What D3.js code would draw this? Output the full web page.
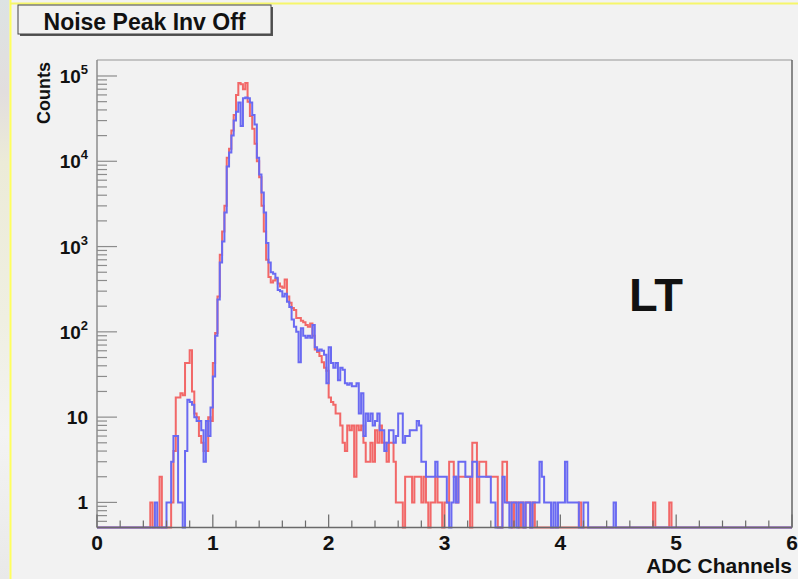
<!DOCTYPE html>
<html>
<head>
<meta charset="utf-8">
<script src="https://cdn.jsdelivr.net/npm/d3@7"></script>
<style>
  html, body { margin: 0; padding: 0; background: #f2f2f2; }
  svg { display: block; }
  text { font-family: "Liberation Sans", Arial, Helvetica, sans-serif; font-weight: bold; fill: #111; }
</style>
</head>
<body>
<svg id="chart" width="798" height="579"></svg>
<script>
// Histogram binning: fixed-width bins over the ADC range
const xRange = [0, 6];
const binWidth = 0.02;
const firstBinLow = 0.40;   // low edge of the first stored bin

// Counts per bin, starting at firstBinLow (red = first run, blue = second run)
const redCounts = [
  0,0,0,1,0,0,0,2,0,0,
  0,0,1,4,17,17,19,18,43,43,
  61,20,11,10,6,5,4,4,10,9,
  43,97,260,800,1500,3000,11000,14000,23000,35000,
  60000,83000,80000,70000,83000,50000,34000,24000,16000,10000,
  6500,3000,1500,700,440,380,400,420,370,340,
  330,410,260,220,190,180,145,145,135,130,
  120,115,125,90,62,58,52,44,38,35,
  17,15,14,11,11,8,5,4,8,7,
  8,2,8,7,8,5,3,3,5,3,
  7,5,8,5,5,3,5,5,3,1,
  1,1,0,2,2,2,1,2,2,2,
  1,2,1,0,1,1,2,1,1,0,
  1,1,3,3,2,1,2,2,2,2,
  2,0,5,5,1,3,3,3,2,2,
  2,2,2,0,0,3,3,1,1,0,
  1,1,0,1,0,1,1,0,1,0,
  0,0,0,0,0,0,0,0,0,0,
  0,0,0,0,0,0,0,0,1,0,
  0,0,0,0,0,0,0,0,0,0,
  0,0,0,0,0,0,0,0,0,0,
  0,0,0,0,0,0,0,0,0,0,
  1,0,0,0,0,0,0,1,0
];

const blueCounts = [
  0,0,0,0,0,1,0,0,0,0,
  1,1,3,6,6,1,1,0,4,16,
  15,14,10,9,9,7,3,9,6,13,
  30,90,240,650,1150,2500,8700,12700,20000,30000,
  38000,49000,26000,55000,56000,55000,49000,35000,27000,11000,
  7000,4300,2500,1100,650,500,480,430,310,300,
  260,280,225,195,140,115,100,44,110,90,
  85,90,85,120,66,60,62,60,54,25,
  66,43,38,43,27,38,36,25,24,25,
  23,23,25,11,19,6,11,9,11,8,
  9,11,7,7,4,5,7,7,5,6,
  11,11,5,6,6,7,7,7,9,8,
  3,3,2,2,2,2,3,2,2,2,
  2,1,0,1,2,1,3,3,3,2,
  2,2,3,3,2,2,2,2,2,2,
  1,1,0,0,0,2,1,1,0,1,
  1,0,1,1,0,1,1,0,1,1,
  1,3,2,1,1,1,0,1,0,1,
  1,1,3,1,1,1,1,1,0,0,
  1,1,0,0,0,0,0,0,0,0,
  0,0,0,1,0,0,0,0,0,0,
  0,0,0,0,0,0,0,0,0,0,
  0,0,0,0,0,0,0,0,0
];

// Axis labels
const xTickValues = [0, 1, 2, 3, 4, 5, 6];
const xTickLabels = ["0", "1", "2", "3", "4", "5", "6"];
const yTickValues = [1, 10, 100, 1000, 10000, 100000];
const yTickBase = ["1", "10", "10", "10", "10", "10"];
const yTickExp = ["", "", "2", "3", "4", "5"];

const title = "Noise Peak Inv Off";
const xTitle = "ADC Channels";
const yTitle = "Counts";
const tag = "LT";

const seriesColors = { red: "#f26868", blue: "#6a6af2" };

// ---- layout ----
const W = 798, H = 579;
const frame = { left: 97, right: 792, top: 60, bottom: 527.5 };

const svg = d3.select("#chart");

// page background and the strip along the left edge
const defs = svg.append("defs");
const grad = defs.append("linearGradient").attr("id", "edgeStrip")
  .attr("x1", 0).attr("y1", 0).attr("x2", 0).attr("y2", 1);
[["0%", "#dde3e3"], ["16%", "#e2dede"], ["28%", "#ecebd8"], ["55%", "#efefe2"], ["75%", "#f3f3f3"], ["100%", "#e9e9e9"]]
  .forEach(([o, c]) => grad.append("stop").attr("offset", o).attr("stop-color", c));

svg.append("rect").attr("width", W).attr("height", H).attr("fill", "#f2f2f2");
svg.append("rect").attr("x", 0).attr("y", 0).attr("width", 9.5).attr("height", H).attr("fill", "url(#edgeStrip)");
svg.append("line").attr("x1", 10.5).attr("x2", 10.5).attr("y1", 0).attr("y2", H)
  .attr("stroke", "#ffff5e").attr("stroke-width", 2);
svg.append("line").attr("x1", 10).attr("x2", W).attr("y1", 3.5).attr("y2", 3.5)
  .attr("stroke", "#f6f66a").attr("stroke-width", 2);

// scales
const x = d3.scaleLinear().domain(xRange).range([frame.left, frame.right]);
const y = d3.scaleLog().domain([0.508, 1.54e5]).range([frame.bottom, frame.top]);

// frame borders
svg.append("line").attr("x1", frame.left).attr("x2", frame.right).attr("y1", frame.top).attr("y2", frame.top)
  .attr("stroke", "#b4b4b4").attr("stroke-width", 1.5);
svg.append("line").attr("x1", frame.right).attr("x2", frame.right).attr("y1", frame.top).attr("y2", frame.bottom)
  .attr("stroke", "#666").attr("stroke-width", 1.5);

// step outline for a histogram; empty bins sit on the bottom of the log frame
const nBins = Math.round((xRange[1] - xRange[0]) / binWidth);
const offset = Math.round((firstBinLow - xRange[0]) / binWidth);
function histPoints(counts) {
  const pts = [];
  for (let i = 0; i < nBins; i++) {
    const k = i - offset;
    const c = (k >= 0 && k < counts.length) ? counts[k] : 0;
    const lo = xRange[0] + i * binWidth, hi = lo + binWidth;
    const yy = c > 0 ? y(c) : frame.bottom;
    pts.push([x(lo), yy], [x(hi), yy]);
  }
  return pts;
}
const line = d3.line();

const hist = svg.append("g");
hist.append("path").attr("d", line(histPoints(redCounts)))
  .attr("fill", "none").attr("stroke", seriesColors.red).attr("stroke-width", 2)
  .attr("stroke-linejoin", "miter");
hist.append("path").attr("d", line(histPoints(blueCounts)))
  .attr("fill", "none").attr("stroke", seriesColors.blue).attr("stroke-width", 2)
  .attr("stroke-linejoin", "miter");

// y axis (log): line, ticks pointing into the frame, labels with exponents
const yAxis = svg.append("g");
yAxis.append("line").attr("x1", frame.left).attr("x2", frame.left).attr("y1", frame.top).attr("y2", frame.bottom)
  .attr("stroke", "#8c8c8c").attr("stroke-width", 1.5);
const yMinor = [];
for (let d = -1; d <= 5; d++) for (let m = 1; m <= 9; m++) {
  const v = m * Math.pow(10, d);
  if (v >= y.domain()[0] && v <= y.domain()[1]) yMinor.push({ v, major: m === 1 });
}
yAxis.selectAll("line.t").data(yMinor).join("line").attr("class", "t")
  .attr("x1", frame.left).attr("x2", d => frame.left + (d.major ? 20 : 10))
  .attr("y1", d => y(d.v)).attr("y2", d => y(d.v))
  .attr("stroke", "#8c8c8c").attr("stroke-width", 1.2);

const yLab = yAxis.selectAll("text.yl").data(yTickValues).join("text").attr("class", "yl")
  .attr("text-anchor", "end").attr("font-size", 19)
  .attr("x", frame.left - 9).attr("y", d => y(d) + 7);
yLab.append("tspan").text((d, i) => yTickBase[i]);
yLab.append("tspan").attr("font-size", 13).attr("dy", -9).text((d, i) => yTickExp[i]);

// x axis: ticks pointing up from the bottom edge
const xAxis = svg.append("g");
xAxis.append("line").attr("x1", frame.left).attr("x2", frame.right).attr("y1", frame.bottom).attr("y2", frame.bottom)
  .attr("stroke", "#6a6a6a").attr("stroke-width", 1.5);
const xMinor = d3.range(0, 30 + 1).map(i => ({ v: i * 0.2, major: i % 5 === 0 }));
xAxis.selectAll("line.t").data(xMinor).join("line").attr("class", "t")
  .attr("x1", d => x(d.v)).attr("x2", d => x(d.v))
  .attr("y1", frame.bottom).attr("y2", d => frame.bottom - (d.major ? 13 : 7))
  .attr("stroke", "#6a6a6a").attr("stroke-width", 1.2);
xAxis.selectAll("text.xl").data(xTickValues).join("text").attr("class", "xl")
  .attr("text-anchor", "middle").attr("font-size", 21)
  .attr("x", d => x(d)).attr("y", 550)
  .text((d, i) => xTickLabels[i]);

// axis titles
svg.append("text").attr("text-anchor", "end").attr("font-size", 21)
  .attr("x", frame.right).attr("y", 573).text(xTitle);
svg.append("text").attr("text-anchor", "end").attr("font-size", 18)
  .attr("transform", `translate(50,${frame.top + 2}) rotate(-90)`).text(yTitle);

// tag inside the frame
svg.append("text").attr("font-size", 47).attr("x", 629).attr("y", 311).text(tag);

// title box with drop shadow
const tb = { x: 18, y: 5, w: 253, h: 29 };
svg.append("rect").attr("x", tb.x + 2).attr("y", tb.y + 2).attr("width", tb.w).attr("height", tb.h).attr("fill", "#555");
svg.append("rect").attr("x", tb.x).attr("y", tb.y).attr("width", tb.w).attr("height", tb.h)
  .attr("fill", "#f2f2f2").attr("stroke", "#444").attr("stroke-width", 1);
svg.append("text").attr("text-anchor", "middle").attr("font-size", 23)
  .attr("x", tb.x + tb.w / 2).attr("y", tb.y + 25).text(title);
</script>
</body>
</html>
